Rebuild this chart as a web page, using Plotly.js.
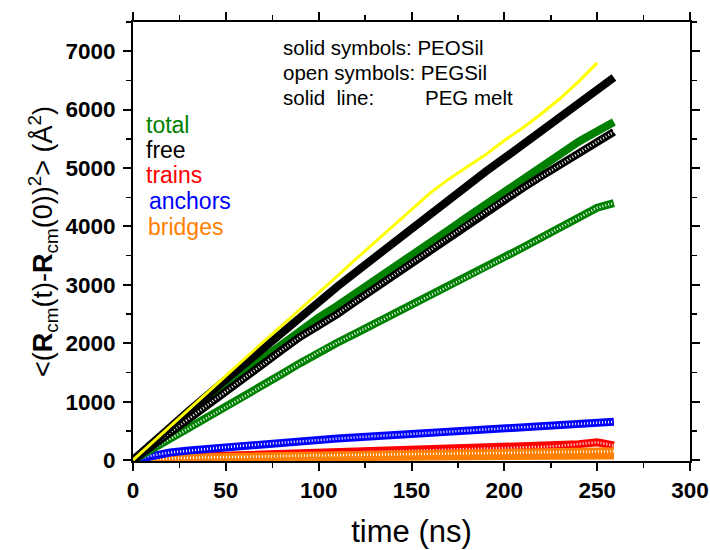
<!DOCTYPE html>
<html><head><meta charset="utf-8">
<script src="https://cdn.plot.ly/plotly-3.0.1.min.js"></script>
<style>body{margin:0;background:#fff}#chart{width:710px;height:550px}</style>
</head><body><div id="chart"></div>
<script>
// time (ns)
const tSil = [0,10,20,30,40,50,60,70,80,90,100,110,120,130,140,150,160,170,180,190,200,210,220,230,240,250,259];
const tMelt = [0,10,20,30,40,50,60,70,80,90,100,110,120,130,140,150,160,170,180,190,200,210,220,230,240,250];
// PEG melt (solid yellow line)
const pegMelt = [0,290,580,870,1160,1450,1740,2020,2300,2580,2870,3150,3440,3720,4000,4290,4570,4810,5020,5230,5470,5690,5930,6190,6480,6800];
// PEOSil (solid symbols)
const peoFree   = [0,290,570,840,1110,1380,1650,1920,2190,2450,2720,2970,3220,3470,3720,3970,4220,4460,4700,4940,5170,5400,5630,5860,6080,6310,6550];
const peoTotal  = [0,280,550,800,1040,1270,1500,1760,2000,2230,2440,2640,2850,3060,3280,3500,3720,3940,4160,4380,4600,4820,5040,5250,5450,5630,5790];
const peoTrains = [0,15,22,28,32,35,38,40,42,44,46,48,50,52,54,56,58,60,62,64,66,68,70,72,74,76,78];
const peoBridges= [0,12,18,22,26,29,32,34,36,38,40,42,44,46,48,50,52,54,56,58,60,62,64,66,68,70,72];
// PEGSil (open symbols)
const pegFree   = [0,240,480,710,940,1170,1400,1640,1880,2110,2300,2500,2720,2940,3160,3380,3600,3820,4040,4250,4460,4660,4860,5060,5260,5450,5620];
const pegTotal  = [0,180,360,540,720,900,1090,1280,1470,1660,1850,2010,2170,2330,2490,2650,2810,2970,3130,3300,3470,3640,3810,3980,4150,4320,4400];
const pegAnchors= [0,80,130,165,195,222,250,275,300,322,345,370,390,410,430,450,470,490,510,530,550,570,590,605,620,640,655];
const pegTrains = [0,25,40,55,65,75,85,95,105,112,120,128,136,144,152,160,168,176,185,195,205,215,228,245,270,305,250];
const pegBridges= [0,20,30,40,48,55,60,65,70,75,80,84,88,92,96,100,104,108,112,116,120,125,130,135,140,145,150];

const GREEN='#008000', RED='#ff0000', BLUE='#0000ff', ORANGE='#ff8000', YELLOW='#ffff00', BLACK='#000000';
const FONT='Liberation Sans, Arial, sans-serif';

function solid(x,y,c,w){return {x:x,y:y,mode:'lines',line:{color:c,width:w},hoverinfo:'skip',showlegend:false};}
function open(x,y,c){return [
  {x:x,y:y,mode:'lines',line:{color:c,width:8},hoverinfo:'skip',showlegend:false},
  {x:x,y:y,mode:'lines',line:{color:'#ffffff',width:2.5,dash:'1px,2px'},hoverinfo:'skip',showlegend:false}
];}

const traces = [].concat(
  [solid(tSil,peoTrains,RED,6)],
  open(tSil,pegTrains,RED),
  [solid(tSil,peoBridges,ORANGE,7)],
  open(tSil,pegBridges,ORANGE),
  open(tSil,pegAnchors,BLUE),
  open(tSil,pegTotal,GREEN),
  [solid(tSil,peoTotal,GREEN,8)],
  open(tSil,pegFree,BLACK),
  [solid(tSil,peoFree,BLACK,8)],
  [solid(tMelt,pegMelt,YELLOW,3)]
);

const tickFont={family:FONT,size:22.5,color:'#000',weight:'bold'};
const ax={showline:true,linecolor:'#000',linewidth:2,mirror:'ticks',ticks:'outside',ticklen:8,tickwidth:2,tickcolor:'#000',showgrid:false,zeroline:false,tickfont:tickFont};

const ann=[];
function txt(x,y,s,c,size){ann.push({xref:'paper',yref:'paper',x:x,y:y,xanchor:'left',yanchor:'middle',text:s,showarrow:false,borderpad:0,font:{family:FONT,size:size,color:c}});}
// paper coords: plot area x 133..690, y 22..461
function px(X){return (X-133)/(690-133);} function py(Y){return (461-Y)/(461-22);}
txt(px(282),py(47),'solid symbols: PEOSil',BLACK,20.5);
txt(px(282),py(72),'open symbols: PEGSil',BLACK,20.5);
txt(px(282),py(97),'solid  line:',BLACK,20.5);
txt(px(424),py(97),'PEG melt',BLACK,20.5);
txt(px(145),py(125),'total',GREEN,23);
txt(px(145),py(150),'free',BLACK,23);
txt(px(145),py(175),'trains',RED,23);
txt(px(148),py(201),'anchors',BLUE,23);
txt(px(147),py(227),'bridges',ORANGE,23);

const layout={
  width:710,height:550,paper_bgcolor:'#fff',plot_bgcolor:'#fff',
  margin:{l:133,r:20,t:22,b:89},
  showlegend:false,
  xaxis:Object.assign({},ax,{range:[0,300],dtick:50,tick0:0,minor:{dtick:25,ticks:'outside',ticklen:5,tickwidth:1.5,tickcolor:'#000'},
     title:{text:'time (ns)',font:{family:FONT,size:31,color:'#000'},standoff:18}}),
  yaxis:Object.assign({},ax,{range:[-15,7500],dtick:1000,tick0:0,ticklabelstandoff:3,minor:{dtick:500,ticks:'outside',ticklen:5,tickwidth:1.5,tickcolor:'#000'},
     title:{text:'&lt;(<b>R</b><sub>cm</sub>(t)-<b>R</b><sub>cm</sub>(0))<sup>2</sup>&gt; (Å<sup>2</sup>)',font:{family:FONT,size:27,color:'#000'},standoff:5}}),
  annotations:ann
};
Plotly.newPlot('chart',traces,layout,{displayModeBar:false,staticPlot:true});
</script></body></html>
